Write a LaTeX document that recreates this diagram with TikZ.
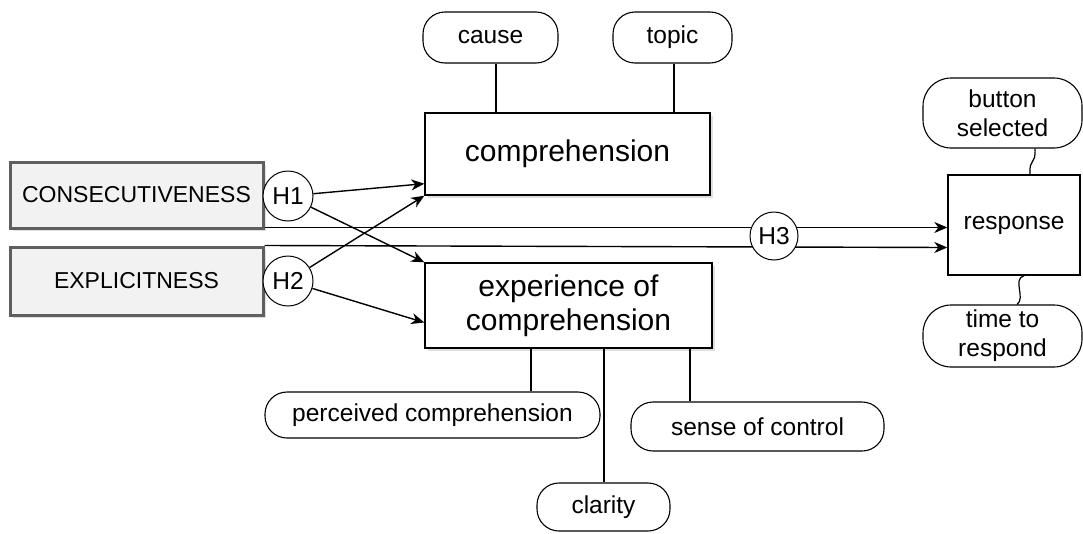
\documentclass[tikz,border=0pt]{standalone}
\usepackage{fontspec}
\setmainfont{Liberation Sans}
\usetikzlibrary{shadows,arrows.meta,calc}
\definecolor{boxgray}{HTML}{F2F2F2}
\definecolor{edgegray}{HTML}{5F5F5F}
\tikzset{
  lbl/.style={font=\fontsize{24.5}{29}\selectfont},
  big/.style={font=\fontsize{30}{34}\selectfont},
  var/.style={draw=edgegray, fill=boxgray, line width=3pt, minimum width=253pt, minimum height=66pt, inner sep=0pt,
     font=\fontsize{23}{27}\selectfont, drop shadow={opacity=0.25, shadow xshift=3pt, shadow yshift=-3pt, fill=gray}},
  mainbox/.style={draw, fill=white, line width=1.4pt, inner sep=0pt, big, align=center,
     drop shadow={opacity=0.25, shadow xshift=3pt, shadow yshift=-3pt, fill=gray}},
  hyp/.style={draw, circle, fill=white, line width=1pt, minimum size=50pt, inner sep=0pt, lbl},
  pill/.style={draw, fill=white, rounded corners=22pt, line width=1.1pt, inner sep=0pt, lbl, align=center},
  arr/.style={-{Stealth[length=13pt,width=11pt,inset=4pt]}, line width=1.4pt},
  conn/.style={line width=1.2pt},
}
\begin{document}
\begin{tikzpicture}[x=1pt,y=-1pt]
\useasboundingbox (0,0) rectangle (1083,533);
% variable boxes
\node[var] (cons) at (136.5,195) {CONSECUTIVENESS};
\node[var, minimum height=68pt] (expl) at (136.5,281) {EXPLICITNESS};
% main boxes
\node[mainbox, minimum width=285pt, minimum height=82pt] (comp) at (567.5,154) {comprehension};
\node[mainbox, minimum width=287pt, minimum height=85pt] (exp) at (568.5,305.5) {experience of\\comprehension};
\node[draw, fill=white, line width=1.4pt, minimum width=132pt, minimum height=100pt, inner sep=0pt, lbl] (resp) at (1014,225) {response};
% pills
\node[pill, minimum width=135pt, minimum height=51pt] (cause) at (490.5,37.5) {cause};
\node[pill, minimum width=119pt, minimum height=51pt] (topic) at (672.5,37.5) {topic};
\node[pill, minimum width=159pt, minimum height=70pt, rounded corners=28pt] (button) at (1002.5,113) {button\\selected};
\node[pill, minimum width=159pt, minimum height=62pt, rounded corners=28pt] (time) at (1002.5,336) {time to\\respond};
\node[pill, minimum width=335pt, minimum height=46pt] (perc) at (432.5,415) {perceived comprehension};
\node[pill, minimum width=253pt, minimum height=49pt] (sense) at (757.5,426.5) {sense of control};
\node[pill, minimum width=133pt, minimum height=48pt] (clar) at (603.5,507) {clarity};
% pill connectors
\draw[conn] (cause.south -| 496,0) -- (comp.north -| 496,0);
\draw[conn] (topic.south -| 674,0) -- (comp.north -| 674,0);
\draw[conn] (exp.south -| 531,0) -- (perc.north -| 531,0);
\draw[conn] (exp.south -| 604,0) -- (clar.north -| 604,0);
\draw[conn] (exp.south -| 690,0) -- (sense.north -| 690,0);
\coordinate (bs) at (button.south -| 1035,0);
\coordinate (rn) at (resp.north -| 1030,0);
\draw[conn] (bs) .. controls (1036,166) and (1029,157) .. (rn);
\coordinate (rs) at (resp.south -| 1024,0);
\coordinate (tn) at (time.north -| 1017,0);
\draw[conn] (rs) .. controls (1012,279) and (1026,298) .. (tn);
% long arrows to response
\draw[arr] ($(cons.south east)+(0,-2)$) -- ($(cons.south east -| resp.west)+(0,-2)$);
\draw[arr] (expl.north east) -- ($(expl.north east -| resp.west)+(0,2)$);
% hypotheses
\node[hyp] (h1) at (288,196) {H1};
\node[hyp] (h2) at (288,281) {H2};
\node[hyp, minimum size=48pt] (h3) at (774,236) {H3};
\coordinate (c1) at ($(comp.south west)+(0,-12)$);
\coordinate (c2) at ($(exp.west)+(0,17)$);
\draw[arr] (h1) -- (c1);
\draw[arr] (h1) -- (exp.north west);
\draw[arr] (h2) -- (comp.south west);
\draw[arr] (h2) -- (c2);
\end{tikzpicture}
\end{document}
